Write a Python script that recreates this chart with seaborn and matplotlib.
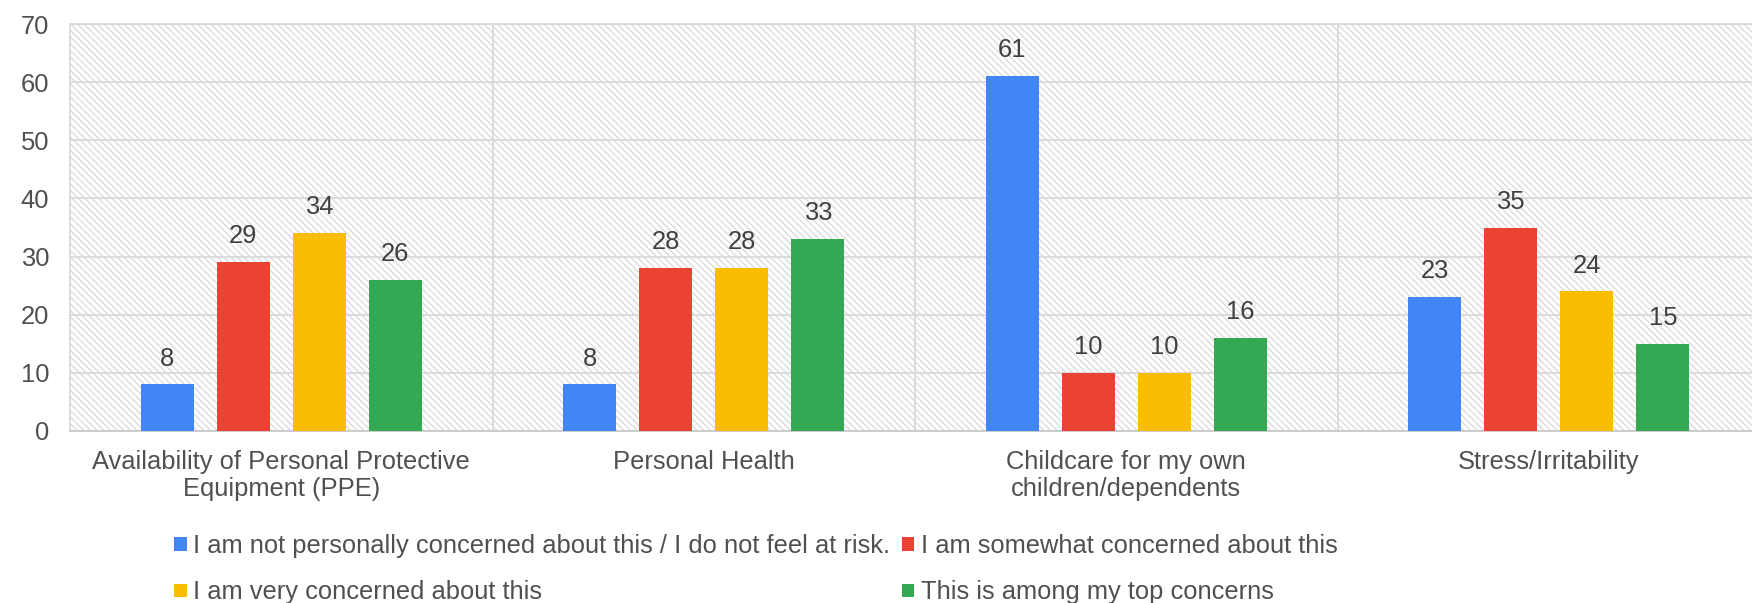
import matplotlib
matplotlib.use("Agg")
import matplotlib.pyplot as plt
import matplotlib.patches as mpatches
import seaborn as sns
import pandas as pd

# ---- data ----
categories = [
    "Availability of Personal Protective\nEquipment (PPE)",
    "Personal Health",
    "Childcare for my own\nchildren/dependents",
    "Stress/Irritability",
]
series = [
    "I am not personally concerned about this / I do not feel at risk.",
    "I am somewhat concerned about this",
    "I am very concerned about this",
    "This is among my top concerns",
]
not_concerned = [8, 8, 61, 23]
somewhat = [29, 28, 10, 35]
very = [34, 28, 10, 24]
top = [26, 33, 16, 15]
y_ticks = [0, 10, 20, 30, 40, 50, 60, 70]
colors = ["#4285F4", "#EA4335", "#FBBC04", "#34A853"]

values = [not_concerned, somewhat, very, top]
rows = []
for s, vals in zip(series, values):
    for c, v in zip(categories, vals):
        rows.append({"category": c, "series": s, "value": v})
df = pd.DataFrame(rows)

# ---- style ----
plt.rcParams["font.family"] = ["Liberation Sans", "DejaVu Sans"]
plt.rcParams["hatch.linewidth"] = 0.8
grid_col = "#d9d9d9"
text_col = "#505050"
FS = 18.4

W, H = 1752, 603
fig = plt.figure(figsize=(W / 100, H / 100), dpi=100)
ax = fig.add_axes([70 / W, (H - 431) / H, 1690 / W, 407 / H])

# hatched plot background
ax.patch.set_facecolor("white")
ax.patch.set_hatch("\\\\\\\\\\")
ax.patch.set_edgecolor("#d4d4d4")

sns.barplot(
    data=df, x="category", y="value", hue="series",
    order=categories, hue_order=series, palette=colors,
    saturation=1, width=0.72, gap=0.3, errorbar=None,
    linewidth=0, legend=False, ax=ax, zorder=3,
)

for cont in ax.containers:
    ax.bar_label(cont, padding=10, fontsize=FS, color="#404040")

ax.set_xlim(-0.5, 3.5)
ax.set_ylim(0, 70)
ax.set_yticks(y_ticks)
ax.set_xlabel("")
ax.set_ylabel("")

ax.grid(axis="y", color=grid_col, linewidth=1.3, zorder=1)
ax.set_axisbelow(True)
for xv in [0.5, 1.5, 2.5]:
    ax.axvline(xv, color=grid_col, linewidth=1.3, zorder=1)

for side in ["left", "top", "right"]:
    ax.spines[side].set_color(grid_col)
    ax.spines[side].set_linewidth(1.3)
ax.spines["bottom"].set_color("#cccccc")
ax.spines["bottom"].set_linewidth(1.5)

ax.tick_params(axis="y", length=0, pad=15, labelsize=FS, labelcolor=text_col)
ax.tick_params(axis="x", length=0, pad=13.5, labelsize=FS, labelcolor=text_col)
for lab in ax.get_xticklabels():
    lab.set_linespacing(1.16)

handles = [mpatches.Rectangle((0, 0), 1, 1, color=c, linewidth=0) for c in colors]
order = [0, 2, 1, 3]
leg = fig.legend(
    [handles[i] for i in order], [series[i] for i in order],
    ncol=2, loc="upper left",
    bbox_to_anchor=(174 / W, 1 - 534 / H),
    frameon=False, fontsize=FS, handlelength=0.5, handleheight=0.45,
    handletextpad=0.25, columnspacing=0.45, labelspacing=0.88,
    borderpad=0, borderaxespad=0,
)
for t in leg.get_texts():
    t.set_color(text_col)

fig.savefig("out.png", dpi=100)
